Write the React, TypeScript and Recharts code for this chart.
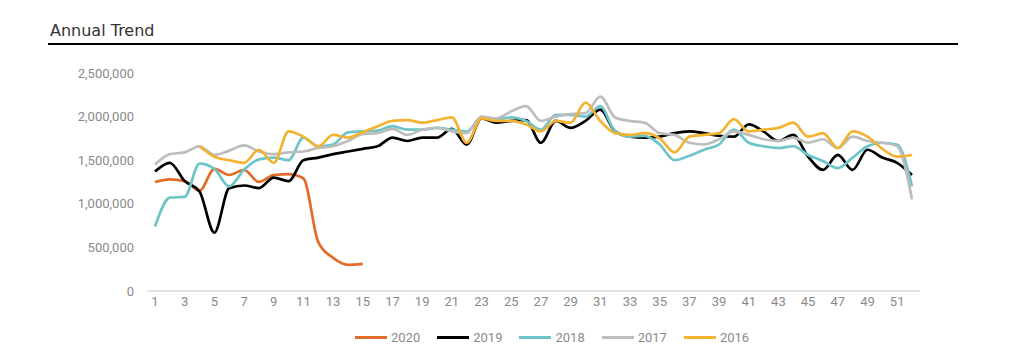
import { LineChart, Line, XAxis, YAxis } from 'recharts'

// weekly totals, week 1..52
const WEEKS = Array.from({ length: 52 }, (_, i) => i + 1)
const Y_TICKS = [0, 500000, 1000000, 1500000, 2000000, 2500000]

const WEEKLY_2020 = [
  1250000, 1280000, 1260000, 1150000, 1400000, 1330000, 1390000, 1250000, 1330000, 1340000,
  1290000, 560000, 380000, 300000, 310000,
]

const WEEKLY_2019 = [
  1370000, 1470000, 1260000, 1140000, 670000, 1180000, 1210000, 1180000, 1300000, 1260000,
  1500000, 1530000, 1570000, 1600000, 1630000, 1660000, 1760000, 1720000, 1760000, 1760000,
  1860000, 1680000, 1980000, 1930000, 1950000, 1960000, 1700000, 1950000, 1870000, 1950000,
  2080000, 1830000, 1770000, 1760000, 1770000, 1810000, 1830000, 1810000, 1780000, 1770000,
  1910000, 1830000, 1720000, 1790000, 1540000, 1390000, 1560000, 1390000, 1620000, 1530000,
  1470000, 1330000,
]

const WEEKLY_2018 = [
  740000, 1070000, 1080000, 1460000, 1400000, 1200000, 1390000, 1510000, 1530000, 1500000,
  1760000, 1660000, 1680000, 1820000, 1830000, 1840000, 1890000, 1850000, 1850000, 1870000,
  1850000, 1830000, 1990000, 1970000, 1990000, 1950000, 1850000, 2020000, 2020000, 2000000,
  2120000, 1830000, 1770000, 1780000, 1680000, 1500000, 1550000, 1620000, 1680000, 1850000,
  1700000, 1660000, 1640000, 1660000, 1560000, 1490000, 1410000, 1530000, 1660000, 1700000,
  1680000, 1200000,
]

const WEEKLY_2017 = [
  1450000, 1570000, 1590000, 1660000, 1560000, 1610000, 1670000, 1600000, 1570000, 1590000,
  1600000, 1640000, 1660000, 1720000, 1800000, 1810000, 1860000, 1790000, 1850000, 1870000,
  1830000, 1810000, 2000000, 1980000, 2060000, 2120000, 1950000, 2000000, 2030000, 2040000,
  2230000, 1990000, 1950000, 1930000, 1810000, 1790000, 1700000, 1680000, 1740000, 1830000,
  1790000, 1740000, 1720000, 1760000, 1700000, 1740000, 1640000, 1770000, 1720000, 1700000,
  1660000, 1050000,
]

const WEEKLY_2016 = [
  null, null, null, 1660000, 1540000, 1500000, 1470000, 1620000, 1470000, 1830000,
  1770000, 1660000, 1790000, 1760000, 1820000, 1890000, 1950000, 1960000, 1930000, 1960000,
  1990000, 1700000, 1980000, 1950000, 1950000, 1910000, 1830000, 1950000, 1930000, 2160000,
  1950000, 1810000, 1790000, 1810000, 1750000, 1590000, 1770000, 1790000, 1810000, 1970000,
  1830000, 1850000, 1870000, 1930000, 1770000, 1810000, 1640000, 1830000, 1770000, 1630000,
  1540000, 1560000,
]

const SERIES = [
  { key: 'y2020', name: '2020', color: '#E46C2A', values: WEEKLY_2020 },
  { key: 'y2019', name: '2019', color: '#000000', values: WEEKLY_2019 },
  { key: 'y2018', name: '2018', color: '#6EC4C8', values: WEEKLY_2018 },
  { key: 'y2017', name: '2017', color: '#BDBDBD', values: WEEKLY_2017 },
  { key: 'y2016', name: '2016', color: '#F2B333', values: WEEKLY_2016 },
]

const data = WEEKS.map((week, i) => {
  const row: Record<string, number | null> = { week }
  SERIES.forEach(s => {
    row[s.key] = s.values[i] ?? null
  })
  return row
})

const FONT = 'Roboto, "DejaVu Sans", sans-serif'
const TICK = { fill: '#8a8a8a', fontSize: 13, fontFamily: FONT }

export default function App() {
  return (
    <div style={{ position: 'absolute', top: 0, left: 0, width: 1024, height: 346, background: '#fff' }}>
      <div
        style={{
          position: 'absolute',
          left: 50,
          top: 21,
          fontFamily: '"DejaVu Sans", sans-serif',
          fontSize: 16,
          color: '#333',
          lineHeight: '19px',
        }}
      >
        Annual Trend
      </div>
      <div style={{ position: 'absolute', left: 48, top: 43, width: 910, height: 2, background: '#000' }} />

      <LineChart
        width={1024}
        height={346}
        data={data}
        margin={{ top: 73, right: 104, bottom: 33, left: 0 }}
      >
        <XAxis
          dataKey="week"
          interval={1}
          tickLine={false}
          tickSize={6}
          tickMargin={0}
          height={22}
          padding={{ left: 8, right: 8 }}
          axisLine={{ stroke: '#d9d9d9', strokeWidth: 1.5 }}
          tick={TICK}
        />
        <YAxis
          width={147}
          domain={[0, 2500000]}
          ticks={Y_TICKS}
          axisLine={false}
          tickLine={false}
          tickMargin={7}
          tick={TICK}
          tickFormatter={(v: number) => v.toLocaleString('en-US')}
        />
        {SERIES.map(s => (
          <Line
            key={s.key}
            dataKey={s.key}
            name={s.name}
            type="monotone"
            stroke={s.color}
            strokeWidth={2.7}
            dot={false}
            activeDot={false}
            isAnimationActive={false}
          />
        ))}
      </LineChart>

      <div
        style={{
          position: 'absolute',
          left: 355,
          top: 330,
          display: 'flex',
          alignItems: 'center',
          gap: 17,
          fontFamily: FONT,
          fontSize: 13,
          color: '#8a8a8a',
        }}
      >
        {SERIES.map(s => (
          <div key={s.key} style={{ display: 'flex', alignItems: 'center', gap: 4 }}>
            <span style={{ display: 'inline-block', width: 32, height: 3, background: s.color }} />
            <span>{s.name}</span>
          </div>
        ))}
      </div>
    </div>
  )
}
